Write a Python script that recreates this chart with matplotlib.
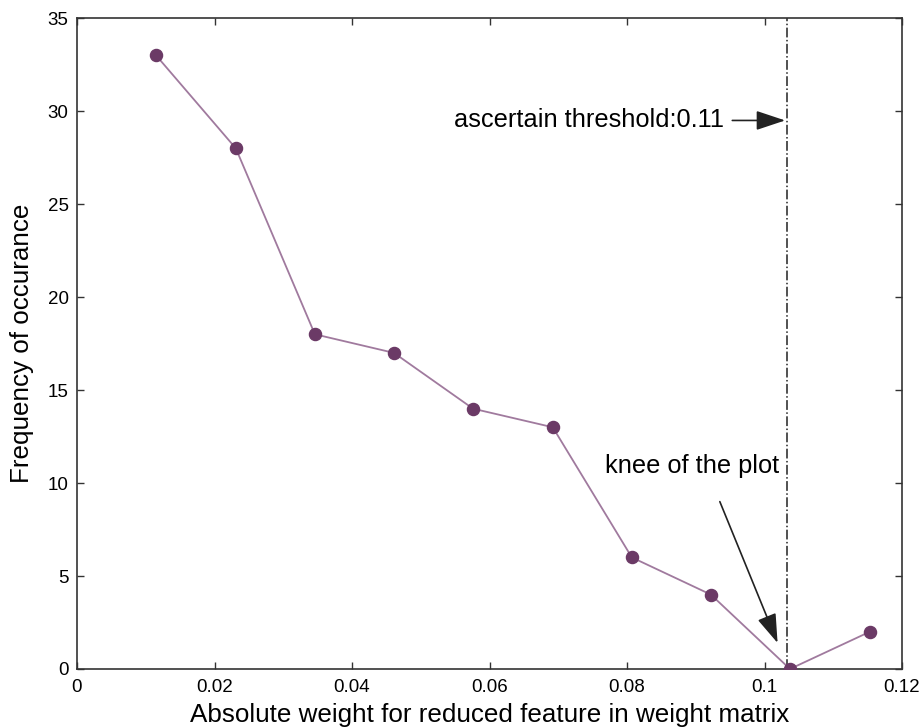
import matplotlib
matplotlib.use("Agg")
import matplotlib.pyplot as plt

plt.rcParams['font.family'] = ['Liberation Sans', 'DejaVu Sans']

weights = [0.0115, 0.0231, 0.0346, 0.0461, 0.0576, 0.0692, 0.0807, 0.0922, 0.1037, 0.1153]
freq = [33, 28, 18, 17, 14, 13, 6, 4, 0, 2]
threshold_x = 0.1032
xticks = [0, 0.02, 0.04, 0.06, 0.08, 0.1, 0.12]
xticklabels = ["0", "0.02", "0.04", "0.06", "0.08", "0.1", "0.12"]
yticks = [0, 5, 10, 15, 20, 25, 30, 35]

fig = plt.figure(figsize=(9.21, 7.27), dpi=100)
ax = fig.add_axes([0.0836, 0.0798, 0.8958, 0.8952])

ax.plot(weights, freq, color='#a07a9e', lw=1.3, zorder=2)
ax.plot(weights, freq, 'o', color='#6b3a66', ms=8.7, zorder=3)
ax.axvline(threshold_x, color='#222222', lw=1.1, ls='-.', zorder=1)

ax.set_xlim(0, 0.12)
ax.set_ylim(0, 35)
ax.set_xticks(xticks)
ax.set_xticklabels(xticklabels)
ax.set_yticks(yticks)
ax.tick_params(direction='in', length=5, width=1, colors='#333333', labelcolor='black',
               labelsize=13.5, top=True, right=True)
ax.tick_params(axis='x', pad=7)
ax.tick_params(axis='y', pad=6)
for s in ax.spines.values():
    s.set_color('#333333')
    s.set_linewidth(1.2)

ax.set_xlabel('Absolute weight for reduced feature in weight matrix', fontsize=18.7, labelpad=5)
ax.set_ylabel('Frequency of occurance', fontsize=18.7, labelpad=10)

arrow_style = dict(arrowstyle='-|>,head_length=0.9,head_width=0.3', color='#222222', lw=1.2,
                   mutation_scale=20)
ax.annotate('ascertain threshold:0.11', xy=(threshold_x, 29.5), xytext=(0.0941, 29.5),
            fontsize=18.3, ha='right', va='center',
            arrowprops=dict(shrinkA=4, shrinkB=1, **arrow_style))
ax.annotate('', xy=(0.1019, 1.4), xytext=(0.0935, 9.0),
            arrowprops=dict(shrinkA=0, shrinkB=0, **arrow_style))
ax.text(0.1022, 10.9, 'knee of the plot', fontsize=18.3, ha='right', va='center')

fig.savefig('out.png', dpi=100)
